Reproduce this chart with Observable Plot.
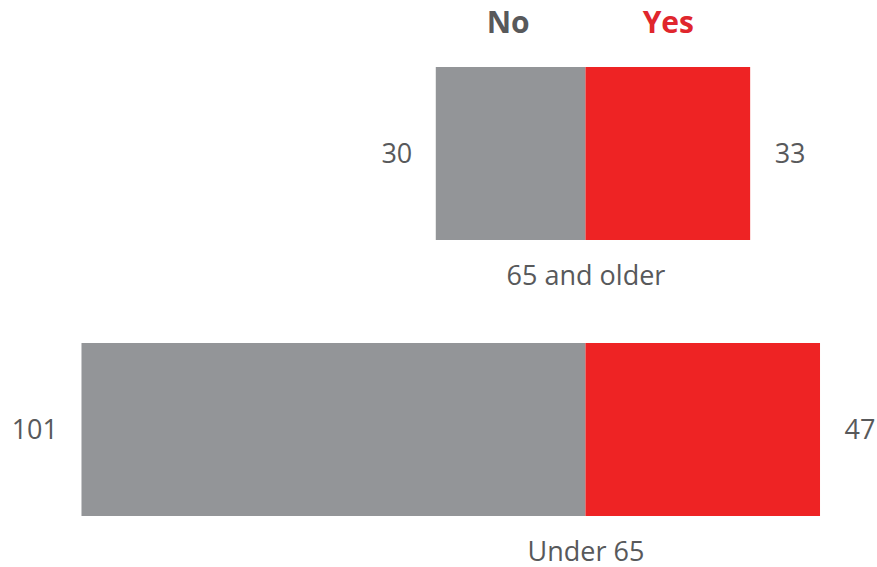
<!DOCTYPE html>
<html>
<head>
<meta charset="utf-8">
<script src="https://cdn.jsdelivr.net/npm/d3@7"></script>
<script src="https://cdn.jsdelivr.net/npm/@observablehq/plot@0.6"></script>
<style>
  html, body { margin: 0; padding: 0; background: #fff; }
  svg { overflow: visible; }
</style>
</head>
<body>
<div id="chart"></div>
<script>
const groups = ["65 and older", "Under 65"];
const answers = ["No", "Yes"];
const noValues = [30, 101];
const yesValues = [33, 47];

const textColor = "#58595b";
const colors = { No: "#939598", Yes: "#ee2324" };
const headerColors = { No: "#58595b", Yes: "#e0262d" };

const rows = [];
groups.forEach((g, i) => {
  rows.push({ group: g, answer: "No", value: noValues[i], x1: -noValues[i], x2: 0 });
  rows.push({ group: g, answer: "Yes", value: yesValues[i], x1: 0, x2: yesValues[i] });
});
const noRows = rows.filter(d => d.answer === "No");
const yesRows = rows.filter(d => d.answer === "Yes");
const noHeader = noRows.filter(d => d.group === groups[0]);
const yesHeader = yesRows.filter(d => d.group === groups[0]);

const chart = Plot.plot({
  width: 877,
  height: 567,
  margin: 0,
  style: { fontFamily: "'Open Sans', sans-serif", background: "#fff", overflow: "visible" },
  x: { domain: [-117.33, 58.42], axis: null },
  y: { domain: groups, range: [67, 516], paddingInner: 0.3732, paddingOuter: 0, round: false, axis: null },
  marks: [
    Plot.barX(rows, { x1: "x1", x2: "x2", y: "group", fill: d => colors[d.answer], inset: 0 }),
    Plot.text(noRows, { x: "x1", y: "group", text: d => String(d.value), textAnchor: "end", dx: -24, fontSize: 27, fill: textColor }),
    Plot.text(yesRows, { x: "x2", y: "group", text: d => String(d.value), textAnchor: "start", dx: 24, fontSize: 27, fill: textColor }),
    Plot.text(groups, { x: 0, y: d => d, text: d => d, dy: 122, fontSize: 27, fill: textColor }),
    Plot.text(noHeader, { x: d => (d.x1 + d.x2) / 2, y: "group", text: "answer", dx: -3, dy: -130.5, fontSize: 30, fontWeight: "bold", fill: headerColors.No }),
    Plot.text(yesHeader, { x: d => (d.x1 + d.x2) / 2, y: "group", text: "answer", dy: -130.5, fontSize: 30, fontWeight: "bold", fill: headerColors.Yes })
  ]
});
document.getElementById("chart").appendChild(chart);
</script>
</body>
</html>
